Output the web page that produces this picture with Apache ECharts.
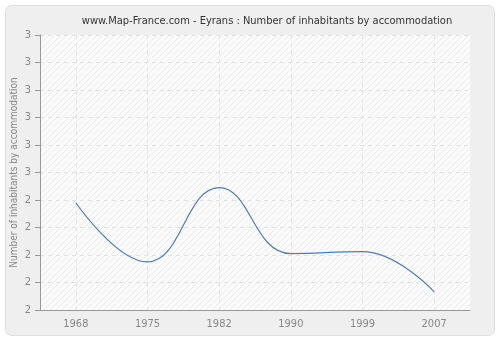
<!DOCTYPE html>
<html><head><meta charset="utf-8">
<script src="https://cdn.jsdelivr.net/npm/echarts@6/dist/echarts.min.js"></script>
<style>html,body{margin:0;padding:0;background:#fff}#c{width:500px;height:340px}</style>
</head><body><div id="c"></div>
<script>
var years = ['1968','1975','1982','1990','1999','2007'];
var values = [2.39, 2.175, 2.445, 2.205, 2.212, 2.066];
var yTicks = [2.0,2.1,2.2,2.3,2.4,2.5,2.6,2.7,2.8,2.9,3.0];

var pc = document.createElement('canvas');
pc.width = 6; pc.height = 6;
var g = pc.getContext('2d');
g.fillStyle = '#fbfbfb'; g.fillRect(0,0,6,6);
g.strokeStyle = '#ebebeb'; g.lineWidth = 1;
for (var k=-6;k<=12;k+=6){ g.beginPath(); g.moveTo(k,6); g.lineTo(k+6,0); g.stroke(); }

var chart = echarts.init(document.getElementById('c'), null, {renderer:'canvas'});
var font = 'DejaVu Sans Condensed';
chart.setOption({
  animation:false,
  graphic:[{type:'rect', z:-10, shape:{x:5.5,y:5.5,width:489,height:330,r:6}, style:{fill:'#efefef', stroke:'#dcdcdc', lineWidth:1}}],
  title:{text:'www.Map-France.com - Eyrans : Number of inhabitants by accommodation', left:262, textAlign:'center', top:11,
    textStyle:{fontFamily:font, fontSize:11, fontWeight:'normal', color:'#333'}},
  grid:{left:40, right:30, top:35, bottom:30, show:true, outerBoundsMode:'none', containLabel:false,
    backgroundColor:{image:pc, repeat:'repeat'}, borderWidth:0},
  xAxis:{type:'category', data:years, boundaryGap:true,
    axisLine:{lineStyle:{color:'#999'}},
    axisTick:{alignWithLabel:true, length:5, lineStyle:{color:'#999'}},
    axisLabel:{fontFamily:font, fontSize:11, color:'#888', margin:9},
    splitLine:{show:true, alignWithLabel:true, lineStyle:{color:'#e2e2e2', type:[4,4]}}},
  yAxis:{type:'value', min:2, max:3, interval:0.1, name:'Number of inhabitants by accommodation', nameLocation:'middle', nameGap:21, nameMoveOverlap:false,
    nameTextStyle:{fontFamily:font, fontSize:10, color:'#888'},
    axisLine:{show:true, lineStyle:{color:'#999'}},
    axisTick:{show:true, length:5, lineStyle:{color:'#999'}},
    axisLabel:{fontFamily:font, fontSize:11, color:'#888', margin:9, formatter:function(v){return Math.round(v).toString();}},
    splitLine:{show:true, lineStyle:{color:'#e2e2e2', type:[4,4]}}},
  series:[{type:'line', data:values, smooth:0.45, symbol:'none', lineStyle:{color:'#4f7db3', width:1.2}}]
});
</script></body></html>
